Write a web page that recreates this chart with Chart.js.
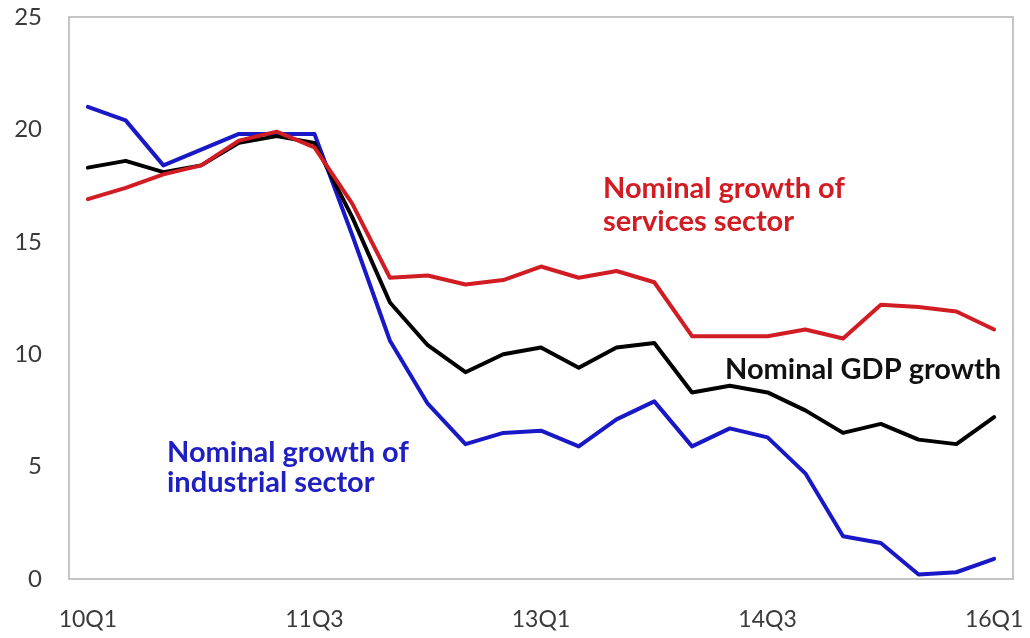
<!DOCTYPE html>
<html>
<head>
<meta charset="utf-8">
<script src="https://cdn.jsdelivr.net/npm/chart.js@4.4.1/dist/chart.umd.min.js"></script>
<style>
  html, body { margin: 0; padding: 0; background: #ffffff; }
  #wrap { width: 1030px; height: 638px; position: relative; }
</style>
</head>
<body>
<div id="wrap"><canvas id="chart" width="1030" height="638"></canvas></div>
<script>
// Quarterly nominal growth, % y/y
const quarters = [
  '10Q1','10Q2','10Q3','10Q4',
  '11Q1','11Q2','11Q3','11Q4',
  '12Q1','12Q2','12Q3','12Q4',
  '13Q1','13Q2','13Q3','13Q4',
  '14Q1','14Q2','14Q3','14Q4',
  '15Q1','15Q2','15Q3','15Q4',
  '16Q1'
];

const servicesGrowth = [
  16.9, 17.4, 18.0, 18.4, 19.5, 19.9, 19.2, 16.7, 13.4, 13.5, 13.1, 13.3,
  13.9, 13.4, 13.7, 13.2, 10.8, 10.8, 10.8, 11.1, 10.7, 12.2, 12.1, 11.9, 11.1
];

const gdpGrowth = [
  18.3, 18.6, 18.1, 18.4, 19.4, 19.7, 19.4, 16.1, 12.3, 10.4, 9.2, 10.0,
  10.3, 9.4, 10.3, 10.5, 8.3, 8.6, 8.3, 7.5, 6.5, 6.9, 6.2, 6.0, 7.2
];

const industryGrowth = [
  21.0, 20.4, 18.4, 19.1, 19.8, 19.8, 19.8, 15.3, 10.6, 7.8, 6.0, 6.5,
  6.6, 5.9, 7.1, 7.9, 5.9, 6.7, 6.3, 4.7, 1.9, 1.6, 0.2, 0.3, 0.9
];

const yTicks = [0, 5, 10, 15, 20, 25];

const RED = '#d21c24';
const BLACK = '#000000';
const BLUE = '#1818c6';

// Frame around the plotting area
const framePlugin = {
  id: 'frame',
  beforeDatasetsDraw(chart) {
    const { ctx, chartArea: a } = chart;
    ctx.save();
    ctx.strokeStyle = '#c4c4c4';
    ctx.lineWidth = 2;
    ctx.strokeRect(a.left, a.top, a.right - a.left, a.bottom - a.top);
    ctx.restore();
  }
};

// In-chart series labels
const seriesLabels = [
  { lines: ['Nominal growth of', 'services sector'], color: '#d21c24', x: 603, y: 198, gap: 33 },
  { lines: ['Nominal GDP growth'], color: '#111111', x: 725, y: 379, gap: 0 },
  { lines: ['Nominal growth of', 'industrial sector'], color: '#2020c2', x: 167, y: 462, gap: 30 }
];

const labelPlugin = {
  id: 'seriesLabels',
  afterDatasetsDraw(chart) {
    const { ctx } = chart;
    ctx.save();
    ctx.font = 'bold 29px Lato, "Open Sans", sans-serif';
    ctx.textAlign = 'left';
    ctx.textBaseline = 'alphabetic';
    seriesLabels.forEach(lbl => {
      ctx.fillStyle = lbl.color;
      lbl.lines.forEach((t, i) => ctx.fillText(t, lbl.x, lbl.y + i * lbl.gap));
    });
    ctx.restore();
  }
};

const lineStyle = {
  borderWidth: 4,
  pointRadius: 0,
  pointHoverRadius: 0,
  tension: 0,
  fill: false,
  borderJoinStyle: 'round',
  borderCapStyle: 'round'
};

new Chart(document.getElementById('chart'), {
  type: 'line',
  data: {
    labels: quarters,
    datasets: [
      { label: 'Nominal growth of services sector', data: servicesGrowth, borderColor: RED, ...lineStyle },
      { label: 'Nominal GDP growth', data: gdpGrowth, borderColor: BLACK, ...lineStyle },
      { label: 'Nominal growth of industrial sector', data: industryGrowth, borderColor: BLUE, ...lineStyle }
    ]
  },
  options: {
    responsive: false,
    animation: false,
    devicePixelRatio: 1,
    layout: { padding: { top: 17, right: 17, left: 0, bottom: 0 } },
    plugins: {
      legend: { display: false },
      tooltip: { enabled: false },
      title: { display: false }
    },
    scales: {
      x: {
        type: 'category',
        offset: true,
        grid: { display: false, drawTicks: false },
        border: { display: false },
        ticks: {
          autoSkip: false,
          maxRotation: 0,
          minRotation: 0,
          padding: 27,
          color: '#3a3a3a',
          font: { family: 'Lato, "Open Sans", sans-serif', size: 23 },
          callback: (v, i) => (i % 6 === 0 ? quarters[i] : '')
        },
        afterFit: s => {
          s.height = 59;
          s.paddingLeft = 0;
          s.paddingRight = 0;
        }
      },
      y: {
        min: 0,
        max: 25,
        grid: { display: false, drawTicks: false },
        border: { display: false },
        afterBuildTicks: s => { s.ticks = yTicks.map(v => ({ value: v })); },
        ticks: {
          padding: 27,
          color: '#3a3a3a',
          font: { family: 'Lato, "Open Sans", sans-serif', size: 24 }
        },
        afterFit: s => {
          s.width = 69;
          s.paddingTop = 0;
          s.paddingBottom = 0;
        }
      }
    }
  },
  plugins: [framePlugin, labelPlugin]
});
</script>
</body>
</html>
